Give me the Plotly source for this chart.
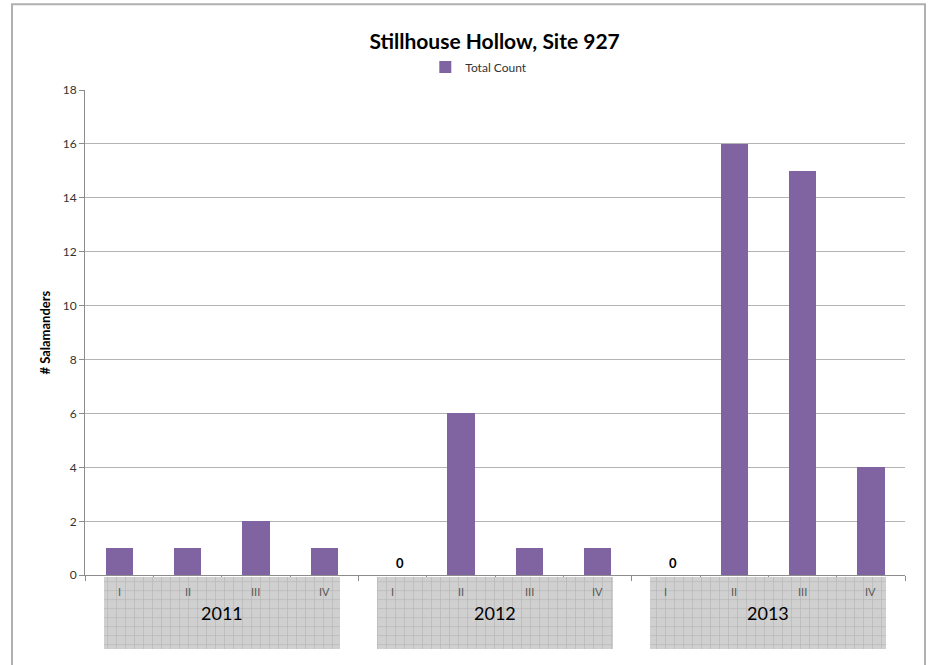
import plotly.graph_objects as go

# Survey data: total salamander counts per quarter
years = ["2011", "2012", "2013"]
quarters = ["I", "II", "III", "IV"]
total_count = [1, 1, 2, 1, 0, 6, 1, 1, 0, 16, 15, 4]

n_q = len(quarters)
positions = list(range(len(total_count)))
group_centers = [i * n_q + (n_q - 1) / 2 for i in range(len(years))]
boundaries = [p - 0.5 for p in positions] + [positions[-1] + 0.5]

FONT = "Lato, 'Open Sans', sans-serif"
PURPLE = "#8064A2"

fig = go.Figure()

fig.add_trace(go.Bar(
    x=positions, y=total_count, width=0.4,
    marker=dict(color=PURPLE, line=dict(width=0)),
    name="Total Count",
))

# Shaded year panels beneath the category axis
fig.add_trace(go.Bar(
    x=group_centers, y=[1] * len(years), width=3.45,
    xaxis="x2", yaxis="y2",
    marker=dict(
        color="#d0d0d0", line=dict(width=0),
        pattern=dict(shape="+", fgcolor="#959595", bgcolor="#d0d0d0",
                     size=9, solidity=0.12),
    ),
    showlegend=False, hoverinfo="skip",
))

annotations = []
for p, v in zip(positions, total_count):
    annotations.append(dict(
        x=p, y=0.8, xref="x", yref="y2", text=quarters[p % n_q],
        showarrow=False, font=dict(family=FONT, size=11, color="#595959"),
    ))
    if v == 0:
        annotations.append(dict(
            x=p, y=v, xref="x", yref="y", text=f"<b>{v}</b>",
            showarrow=False, yanchor="bottom", yshift=2, xshift=7,
            font=dict(family=FONT, size=13, color="#000000"),
        ))
for c, yr in zip(group_centers, years):
    annotations.append(dict(
        x=c, y=0.5, xref="x", yref="y2", text=yr, showarrow=False,
        font=dict(family=FONT, size=18, color="#000000"),
    ))

fig.update_layout(
    width=935, height=665,
    margin=dict(l=85, r=30, t=90, b=9),
    paper_bgcolor="white", plot_bgcolor="white",
    font=dict(family=FONT, size=12, color="#333333"),
    title=dict(text="<b>Stillhouse Hollow, Site 927</b>", x=0.529, y=0.937,
               xanchor="center", yanchor="middle",
               font=dict(family=FONT, size=21, color="#000000")),
    legend=dict(orientation="h", x=0.415, y=1.041, xanchor="left",
                yanchor="middle", font=dict(family=FONT, size=12, color="#333333"),
                itemwidth=30),
    bargap=0,
    xaxis=dict(range=[-0.5, 11.5], tickmode="array", tickvals=boundaries,
               showticklabels=False, ticks="outside", ticklen=5,
               tickcolor="#8c8c8c", showline=True, linecolor="#8c8c8c",
               showgrid=False, zeroline=False, fixedrange=True),
    yaxis=dict(domain=[0.132, 1], range=[0, 18], dtick=2, ticks="outside",
               ticklen=5, tickcolor="#8c8c8c", showline=True,
               linecolor="#8c8c8c", gridcolor="#b3b3b3", zeroline=False,
               tickfont=dict(family=FONT, size=12, color="#333333"),
               title=dict(text="<b># Salamanders</b>", standoff=9,
                          font=dict(family=FONT, size=13, color="#000000"))),
    xaxis2=dict(range=[-0.5, 11.5], overlaying="x", visible=False,
                anchor="y2"),
    yaxis2=dict(domain=[0, 0.1286], range=[0, 1], visible=False,
                anchor="x2"),
    annotations=annotations,
    shapes=[dict(type="rect", xref="paper", yref="paper",
                 x0=-0.089, x1=1.0244, y0=-0.05, y1=1.1536,
                 line=dict(color="#b0b0b0", width=2), layer="below")],
)

fig.write_html("out.html")
